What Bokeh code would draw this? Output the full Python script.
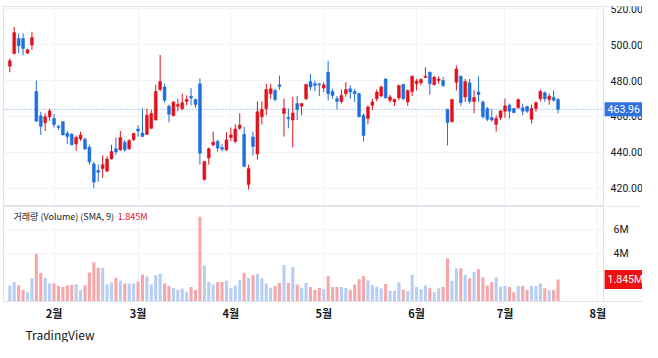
from bokeh.plotting import figure
from bokeh.layouts import column
from bokeh.models import (ColumnDataSource, Range1d, FixedTicker, Span, Label, Title,
                          Grid, NumeralTickFormatter, BoxAnnotation)
from bokeh.embed import file_html
from bokeh.resources import INLINE

# ---------------- data ----------------
opens = [488, 495.1, 503.4, 503.4, 495.3, 499.8, 473.9, 460.4, 456.5, 459.8,
         458.9, 454.5, 457.1, 450.6, 450.1, 444.7, 447.5, 447.3, 442.9, 433.6,
         429.9, 431, 429.5, 436.5, 442, 441.4, 445.7, 442, 447, 453,
         450.8, 450.1, 453.4, 458, 475, 476.4, 465.7, 460.4, 465.7, 464.4,
         468.4, 471.2, 469.5, 478.2, 424.9, 436.9, 444.2, 446.1, 442.8, 441.4,
         448.3, 446.1, 453.4, 450.1, 422.1, 448.6, 439.1, 459.8, 464.4, 472.7,
         474.5, 477.6, 461.7, 459.4, 458, 467.2, 465.7, 469.9, 479.4, 478.2,
         478.2, 475.8, 484.6, 473.9, 469.9, 468.4, 472.7, 475.4, 473.9, 472.7,
         460.7, 458.9, 466.2, 469.9, 471.4, 480.9, 469, 468.1, 470.3, 477.8,
         468.1, 473.9, 478.2, 478.7, 481.7, 484.6, 477.6, 480, 480, 464,
         457.1, 479.1, 482.4, 470.9, 478.7, 468.4, 473.6, 468.1, 464.4, 459.4,
         455.6, 459.3, 462.9, 466.2, 464.4, 464.8, 464.8, 465.5, 458.5, 464.4,
         469.9, 473.2, 469.4, 470.5, 469.4]
highs = [492.3, 509.8, 506.2, 506.2, 497.5, 507.2, 480, 462.6, 461.7, 464.4,
         461.3, 455.2, 457.5, 451.9, 450.6, 449.4, 451.6, 448.3, 444.2, 434.7,
         433.2, 438.3, 437.8, 444.2, 448.3, 451.9, 447, 447.5, 450.6, 455.2,
         464.4, 464.4, 463.5, 477.6, 494.2, 478.2, 466.6, 468.4, 469.9, 472.7,
         471.7, 475.8, 469.9, 481.3, 435.2, 442.8, 451.6, 447, 444.6, 451.2,
         453.8, 455.6, 461.7, 454.3, 433.2, 451.6, 468.4, 468.4, 478.2, 478.2,
         475.4, 482.8, 469.9, 464.4, 470.9, 471.4, 467.4, 478.2, 483.7, 480,
         478.6, 479.1, 491, 475.4, 471.4, 475, 479.1, 477.3, 475.4, 473.2,
         461.7, 466.2, 469.9, 475, 477.3, 481.1, 472.1, 469.9, 477.6, 478.2,
         475, 482.8, 480.9, 481.3, 487.4, 485, 482.4, 482.4, 481.9, 464.2,
         469.7, 488.3, 482.8, 480.9, 480.9, 474.5, 482.4, 469, 465.3, 464,
         460.7, 463.5, 469.9, 467.2, 464.8, 469.9, 467.2, 465.9, 466.6, 468.4,
         475, 473.9, 472.7, 474.5, 470.3]
lows = [484.6, 494.5, 495.1, 494, 494.8, 497.1, 457, 449.7, 451.9, 457.6,
        453.8, 452.5, 449.5, 444.7, 444, 440.9, 446.4, 441.4, 433.2, 420,
        423.6, 425.8, 429.3, 436, 438.7, 440.9, 440.5, 441.4, 446.4, 448.8,
        448.6, 449.7, 453.2, 457.8, 473.9, 467.7, 456.7, 460.2, 462.9, 463.5,
        466.2, 466.2, 464.8, 433.2, 424.4, 433.2, 443.3, 440.5, 440.6, 440.9,
        446.4, 445.1, 452.5, 431.7, 419.4, 438.3, 436, 455.6, 460.7, 469.9,
        468.4, 475, 448.8, 453.4, 442.8, 458, 460.7, 469, 474.5, 474,
        471.4, 473.6, 469, 469.9, 464, 467.2, 470.9, 469.9, 468.1, 459.6,
        446.1, 455.6, 463.5, 468.4, 470.9, 470.1, 467.7, 465.9, 469, 469,
        465.9, 471.4, 474.5, 477.3, 481.5, 472.1, 477.3, 478.2, 476.4, 443.9,
        456.7, 474.5, 465.9, 468.1, 467.2, 461.7, 468.1, 458.9, 457.4, 457.1,
        451.6, 458, 459.3, 458.9, 461.7, 464.4, 460.7, 462, 456.1, 462.6,
        468.4, 468.1, 466.6, 468.4, 461.7]
closes = [491, 506.7, 499.3, 497.8, 497.1, 503.9, 457.4, 454.5, 459.8, 463.1,
          455.6, 453.8, 449.7, 448.8, 444.2, 448.3, 449.7, 441.9, 434.7, 423.5,
          429.0, 433.2, 436.3, 440.5, 440.2, 448.3, 441.4, 446.6, 450.6, 451.9,
          448.8, 460.7, 461.7, 473.9, 479.4, 469, 461.3, 468.1, 466.6, 467.7,
          469.5, 470.3, 466.6, 439.6, 435, 442, 445.7, 442.4, 441.8, 447,
          449.7, 453, 455.2, 432.3, 431, 443.3, 462.6, 464, 475, 475.4,
          469.5, 476.7, 464.4, 458.7, 462, 463.9, 467.2, 477.8, 476.4, 477.3,
          477.6, 477.6, 472.7, 471.7, 468.4, 471.7, 475, 473.6, 472.7, 459.8,
          449.4, 465.3, 468.1, 473.6, 476.4, 470.3, 470.9, 469.4, 477.3, 469.9,
          474.5, 482.4, 479.7, 480.6, 482.4, 478.2, 481.9, 480.9, 477.3, 456.7,
          469.5, 486.4, 467.7, 479.4, 468.4, 470.5, 472.1, 459.8, 458.5, 458,
          458.9, 463.1, 465.9, 462.9, 462.2, 469.4, 462.9, 462.9, 464.4, 467.7,
          473.9, 469.9, 471.2, 469, 463.96]
volumes_m = [1.34, 1.63, 1.37, 0.96, 0.78, 1.94, 4.0, 2.4, 1.96, 1.5,
             1.5, 1.29, 1.21, 1.34, 1.4, 1.45, 0.96, 1.34, 2.43, 3.28,
             2.82, 2.82, 1.42, 1.6, 1.99, 1.76, 1.5, 1.5, 1.5, 1.68,
             2.27, 2.09, 1.42, 2.2, 2.33, 1.5, 1.29, 1.16, 0.96, 1.09,
             0.78, 1.21, 0.96, 7.1, 3.02, 1.63, 1.42, 1.63, 1.63, 1.73,
             1.11, 1.34, 1.81, 2.4, 1.99, 2.2, 2.33, 1.94, 1.5, 1.16,
             1.29, 1.55, 3.05, 1.55, 2.89, 1.42, 1.11, 1.55, 1.21, 0.96,
             1.16, 1.03, 2.12, 1.21, 1.21, 1.21, 1.14, 0.98, 1.42, 1.86,
             2.14, 1.76, 1.37, 1.24, 1.09, 1.47, 0.9, 0.9, 1.6, 0.98,
             0.88, 2.25, 1.21, 1.03, 1.34, 1.11, 0.78, 1.11, 1.21, 3.62,
             1.73, 2.76, 2.79, 2.25, 1.94, 2.45, 2.71, 2.01, 1.34, 1.63,
             2.01, 1.24, 1.29, 1.21, 0.78, 1.29, 1.29, 0.96, 1.29, 1.29,
             1.5, 1.11, 0.96, 0.96, 1.845]
month_ticks = [10, 29, 50, 71, 92, 112, 133]
month_labels = ["2월", "3월", "4월", "5월", "6월", "7월", "8월"]
price_ticks = [420, 440, 460, 480, 500, 520]
vol_ticks = [4, 6]
vol_tick_labels = ["4M", "6M"]
last_price = 463.96
last_volume_m = 1.845

# ---------------- styling ----------------
UP, DOWN = "#e0121c", "#1f6fdc"
VUP, VDOWN = "#b6cef3", "#f6a7aa"
GRID = "#f0f3fa"
BORDER = "#e0e3eb"
TXT = "#131722"
FONT = "Noto Sans CJK KR"
NUMFONT = "Roboto"

X_START, X_AXIS, X_END = -1.43, 134.3, 143.1   # time-scale edges (bar index units)

n = len(opens)
xs = list(range(n))
up = [c >= o for o, c in zip(opens, closes)]
src = ColumnDataSource(dict(
    x=xs, open=opens, high=highs, low=lows, close=closes,
    top=[max(o, c) for o, c in zip(opens, closes)],
    bottom=[min(o, c) for o, c in zip(opens, closes)],
    color=[UP if u else DOWN for u in up],
    vol=volumes_m,
    vcolor=[VUP if u else VDOWN for u in up],
))

xr = Range1d(X_START, X_END)


def style_price_axis(ax, standoff):
    ax.fixed_location = X_AXIS
    ax.major_tick_line_color = None
    ax.minor_tick_line_color = None
    ax.major_tick_out = 0
    ax.major_tick_in = 0
    ax.axis_line_color = BORDER
    ax.major_label_standoff = standoff
    ax.major_label_text_font = NUMFONT
    ax.major_label_text_font_size = "10.5px"
    ax.major_label_text_color = TXT


# ---------------- price pane ----------------
p = figure(width=642, height=206, x_range=xr, y_range=Range1d(409.9, 521.2),
           y_axis_location="right", x_axis_location=None,
           output_backend="svg", toolbar_location=None,
           min_border_left=3, min_border_right=0, min_border_top=6, min_border_bottom=0,
           outline_line_color=BORDER, background_fill_color="white", border_fill_color="white")
for g in p.xgrid:
    g.visible = False
p.add_layout(Grid(dimension=0, ticker=FixedTicker(ticks=month_ticks), grid_line_color=GRID))
p.ygrid.ticker = FixedTicker(ticks=price_ticks)
p.ygrid.grid_line_color = GRID
ya = p.yaxis[0]
ya.ticker = FixedTicker(ticks=price_ticks)
ya.formatter = NumeralTickFormatter(format="0.00")
style_price_axis(ya, 7)

p.add_layout(Span(location=last_price, dimension="width", line_color="#5c9bf0",
                  line_dash="1 2", line_width=1, level="underlay"))
p.add_layout(BoxAnnotation(left=X_AXIS, fill_color="white", fill_alpha=1.0,
                           line_color=None, level="glyph"))

p.segment(x0="x", y0="low", x1="x", y1="high", line_color="color", line_width=1, source=src)
p.vbar(x="x", width=0.66, top="top", bottom="bottom", fill_color="color",
       line_color="color", line_width=0.5, source=src)

p.add_layout(Label(x=X_AXIS, y=last_price, x_offset=1, text=f"{last_price:.2f}",
                   text_align="left", text_baseline="middle", text_color="white",
                   text_font=NUMFONT, text_font_size="10.5px",
                   background_fill_color="#2f72e0", padding=3))

# ---------------- volume pane ----------------
p2 = figure(width=642, height=136, x_range=xr, y_range=Range1d(0, 7.96),
            y_axis_location="right", x_axis_location="below",
            output_backend="svg", toolbar_location=None,
            min_border_left=3, min_border_right=0, min_border_top=0, min_border_bottom=0,
            outline_line_color=BORDER, background_fill_color="white", border_fill_color="white")
p2.xgrid.ticker = FixedTicker(ticks=month_ticks)
p2.xgrid.grid_line_color = GRID
p2.ygrid.ticker = FixedTicker(ticks=vol_ticks)
p2.ygrid.grid_line_color = GRID

xa = p2.xaxis[0]
xa.ticker = FixedTicker(ticks=month_ticks)
xa.major_label_overrides = {t: l for t, l in zip(month_ticks, month_labels)}
xa.major_tick_line_color = None
xa.minor_tick_line_color = None
xa.major_tick_out = 0
xa.major_tick_in = 0
xa.axis_line_color = BORDER
xa.major_label_standoff = 3
xa.major_label_text_font = FONT
xa.major_label_text_font_size = "11px"
xa.major_label_text_font_style = "bold"
xa.major_label_text_color = TXT

ya2 = p2.yaxis[0]
ya2.ticker = FixedTicker(ticks=vol_ticks)
ya2.major_label_overrides = {t: l for t, l in zip(vol_ticks, vol_tick_labels)}
style_price_axis(ya2, 10)

p2.add_layout(BoxAnnotation(left=X_AXIS, fill_color="white", fill_alpha=1.0,
                            line_color=None, level="glyph"))
p2.vbar(x="x", width=0.7, top="vol", bottom=0, fill_color="vcolor", line_color=None, source=src)

p2.add_layout(Label(x=0.84, y=7.15, text="거래량 (Volume) (SMA, 9)", text_align="left",
                    text_baseline="middle", text_color=TXT, text_font=FONT,
                    text_font_size="9px"))
p2.add_layout(Label(x=24.4, y=7.15, text=f"{last_volume_m:.3f}M", text_align="left",
                    text_baseline="middle", text_color="#d9121b", text_font=FONT,
                    text_font_size="9px"))
p2.add_layout(Label(x=X_AXIS, y=last_volume_m, x_offset=1, text=f"{last_volume_m:.3f}M",
                    text_align="left", text_baseline="middle", text_color="white",
                    text_font=NUMFONT, text_font_size="10.5px",
                    background_fill_color="#ee1111", padding=3))
p2.add_layout(Title(text="TradingView", align="left", offset=22, standoff=0, text_font=FONT,
                    text_font_size="12px", text_font_style="normal", text_color=TXT), "below")

layout = column(p, p2, spacing=0)
open("out.html", "w").write(file_html(layout, INLINE))
